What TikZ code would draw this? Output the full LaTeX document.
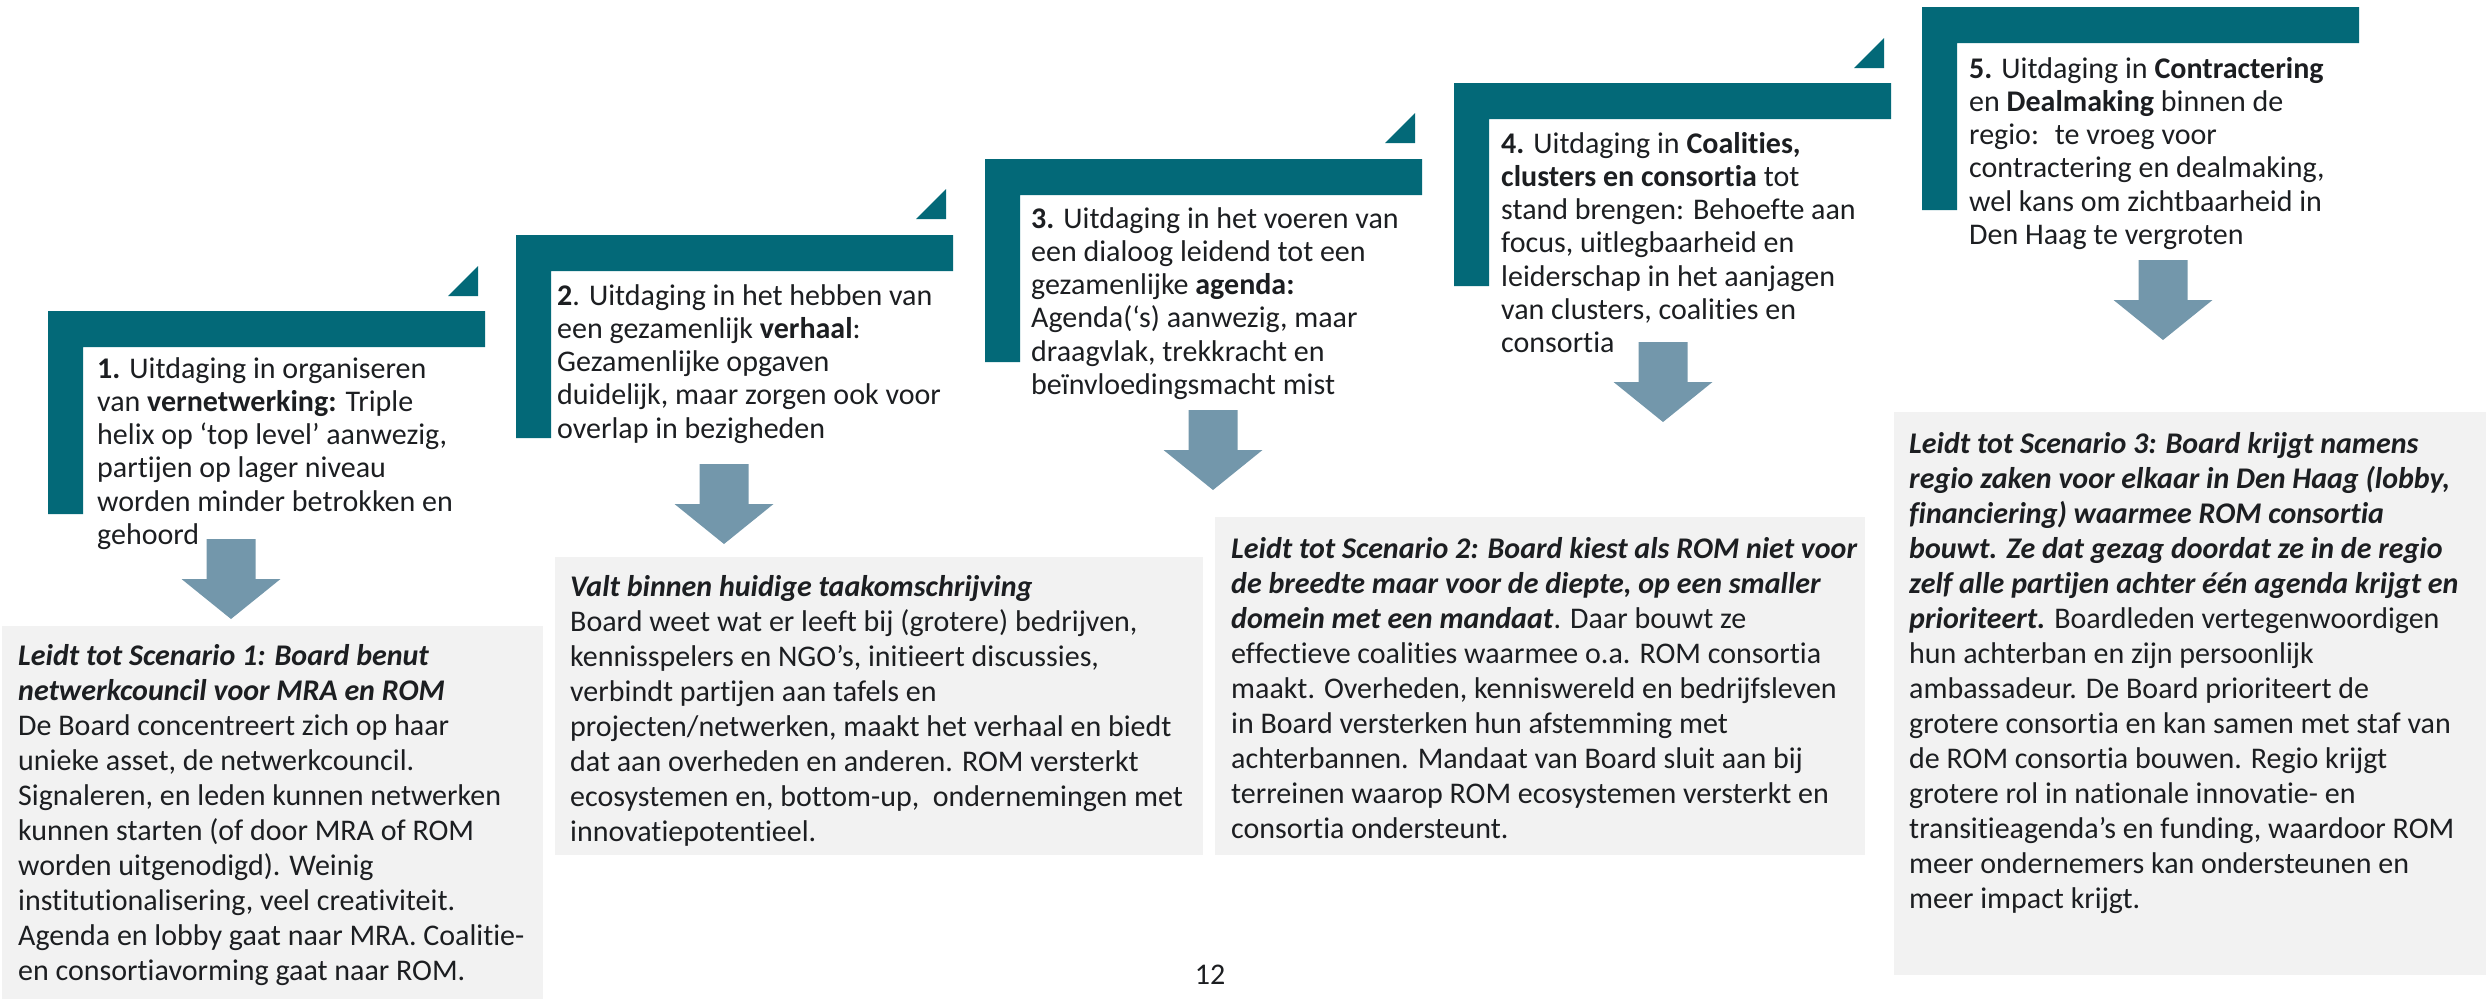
\documentclass[tikz,border=0pt]{standalone}
\usepackage{fontspec}
\setmainfont{Carlito}[Ligatures=NoCommon]
\definecolor{stepteal}{RGB}{3,105,120}
\definecolor{arrowsteel}{RGB}{115,151,171}
\definecolor{panelgray}{RGB}{242,242,242}
\definecolor{ink}{RGB}{28,30,33}
\tikzset{
  stepbracket/.pic={
    \fill[stepteal] (0,0) -- (437,0) -- (437,36) -- (35,36) -- (35,203) -- (0,203) -- cycle;
  },
  steptick/.pic={
    \fill[stepteal] (-30,0) -- (0,0) -- (0,-30) -- cycle;
  },
  downarrow/.pic={
    \fill[arrowsteel] (-24.5,0) -- (24.5,0) -- (24.5,40) -- (49.5,40) -- (0,80) -- (-49.5,40) -- (-24.5,40) -- cycle;
  },
  steptext/.style={anchor=base west, inner sep=0pt, text=ink,
    font=\fontsize{30}{33.3}\selectfont},
  paneltext/.style={anchor=base west, inner sep=0pt, text=ink,
    font=\fontsize{30}{35}\selectfont},
  panel/.style={fill=panelgray, draw=none}
}
\newcommand{\bi}[1]{\textbf{\textit{#1}}}
\begin{document}
\begin{tikzpicture}[x=1pt,y=-1pt]
\useasboundingbox (0,0) rectangle (2486,999);

% scenario panels
\fill[panel] (2,626) rectangle (543,999);
\fill[panel] (555,557) rectangle (1203,855);
\fill[panel] (1215,517) rectangle (1865,855);
\fill[panel] (1894,412) rectangle (2486,975);

% staircase of challenge brackets
\pic at (48,311) {stepbracket};
\pic at (516,235) {stepbracket};
\pic at (985,159) {stepbracket};
\pic at (1454,83) {stepbracket};
\pic at (1922,7) {stepbracket};
\pic at (478,296) {steptick};
\pic at (946,219) {steptick};
\pic at (1415,143) {steptick};
\pic at (1884,68) {steptick};

% challenge texts
\node[steptext] (t1) at (97,378) {\begin{tabular}[t]{@{}l@{}}
\textbf{1.} Uitdaging in organiseren\\
van \textbf{vernetwerking:} Triple\\
helix op ‘top level’ aanwezig,\\
partijen op lager niveau\\
worden minder betrokken en\\
gehoord\end{tabular}};

\node[steptext] (t2) at (557,305) {\begin{tabular}[t]{@{}l@{}}
\textbf{2}. Uitdaging in het hebben van\\
een gezamenlijk \textbf{verhaal}:\\
Gezamenlijke opgaven\\
duidelijk, maar zorgen ook voor\\
overlap in bezigheden\end{tabular}};

\node[steptext] (t3) at (1031,228) {\begin{tabular}[t]{@{}l@{}}
\textbf{3.} Uitdaging in het voeren van\\
een dialoog leidend tot een\\
gezamenlijke \textbf{agenda:}\\
Agenda(‘s) aanwezig, maar\\
draagvlak, trekkracht en\\
beïnvloedingsmacht mist\end{tabular}};

\node[steptext] (t4) at (1501,153) {\begin{tabular}[t]{@{}l@{}}
\textbf{4.} Uitdaging in \textbf{Coalities,}\\
\textbf{clusters en consortia} tot\\
stand brengen: Behoefte aan\\
focus, uitlegbaarheid en\\
leiderschap in het aanjagen\\
van clusters, coalities en\\
consortia\end{tabular}};

\node[steptext] (t5) at (1969,78) {\begin{tabular}[t]{@{}l@{}}
\textbf{5.} Uitdaging in \textbf{Contractering}\\
en \textbf{Dealmaking} binnen de\\
regio:~ te vroeg voor\\
contractering en dealmaking,\\
wel kans om zichtbaarheid in\\
Den Haag te vergroten\end{tabular}};

% arrows leading to the scenarios
\pic at (231,539) {downarrow};
\pic at (724,464) {downarrow};
\pic at (1213,410) {downarrow};
\pic at (1663,342) {downarrow};
\pic at (2163,260) {downarrow};

% scenario texts
\node[paneltext] (s1) at (18,665) {\begin{tabular}[t]{@{}l@{}}
\bi{Leidt tot Scenario 1: Board benut}\\
\bi{netwerkcouncil voor MRA en ROM}\\
De Board concentreert zich op haar\\
unieke asset, de netwerkcouncil.\\
Signaleren, en leden kunnen netwerken\\
kunnen starten (of door MRA of ROM\\
worden uitgenodigd). Weinig\\
institutionalisering, veel creativiteit.\\
Agenda en lobby gaat naar MRA. Coalitie-\\
en consortiavorming gaat naar ROM.\end{tabular}};

\node[paneltext] (s2) at (570,596) {\begin{tabular}[t]{@{}l@{}}
\bi{Valt binnen huidige taakomschrijving}\\
Board weet wat er leeft bij (grotere) bedrijven,\\
kennisspelers en NGO’s, initieert discussies,\\
verbindt partijen aan tafels en\\
projecten/netwerken, maakt het verhaal en biedt\\
dat aan overheden en anderen. ROM versterkt\\
ecosystemen en, bottom-up,~ ondernemingen met\\
innovatiepotentieel.\end{tabular}};

\node[paneltext] (s3) at (1231,558) {\begin{tabular}[t]{@{}l@{}}
\bi{Leidt tot Scenario 2: Board kiest als ROM niet voor}\\
\bi{de breedte maar voor de diepte, op een smaller}\\
\bi{domein met een mandaat}. Daar bouwt ze\\
effectieve coalities waarmee o.a. ROM consortia\\
maakt. Overheden, kenniswereld en bedrijfsleven\\
in Board versterken hun afstemming met\\
achterbannen. Mandaat van Board sluit aan bij\\
terreinen waarop ROM ecosystemen versterkt en\\
consortia ondersteunt.\end{tabular}};

\node[paneltext] (s4) at (1909,453) {\begin{tabular}[t]{@{}l@{}}
\bi{Leidt tot Scenario 3: Board krijgt namens}\\
\bi{regio zaken voor elkaar in Den Haag (lobby,}\\
\bi{financiering) waarmee ROM consortia}\\
\bi{bouwt. Ze dat gezag doordat ze in de regio}\\
\bi{zelf alle partijen achter één agenda krijgt en}\\
\bi{prioriteert.} Boardleden vertegenwoordigen\\
hun achterban en zijn persoonlijk\\
ambassadeur. De Board prioriteert de\\
grotere consortia en kan samen met staf van\\
de ROM consortia bouwen. Regio krijgt\\
grotere rol in nationale innovatie- en\\
transitieagenda’s en funding, waardoor ROM\\
meer ondernemers kan ondersteunen en\\
meer impact krijgt.\end{tabular}};

% page number
\node[steptext, anchor=base] (pagenum) at (1210,984) {12};
\end{tikzpicture}
\end{document}
